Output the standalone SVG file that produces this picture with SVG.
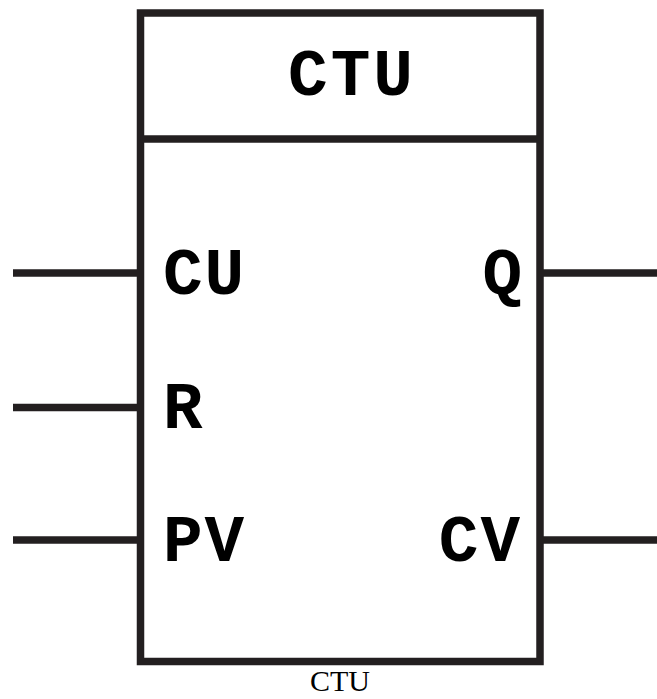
<svg xmlns="http://www.w3.org/2000/svg" width="657" height="699" viewBox="0 0 657 699">
<style>
.ln{stroke:#231f20;stroke-width:7.5;fill:none}
.lbl{font-family:"Courier New","Liberation Mono",monospace;font-weight:bold;font-size:66px;fill:#000}
.cap{font-family:"Liberation Serif","Times New Roman",serif;font-size:30px;fill:#000}
</style>
<rect width="657" height="699" fill="#fff"/>
<g id="block">
<rect class="ln" x="140.5" y="13" width="399.5" height="648.5"/>
<line class="ln" x1="140.5" y1="139" x2="540" y2="139"/>
<text class="lbl" x="352" y="95" text-anchor="middle" letter-spacing="3">CTU</text>
<text class="lbl" x="163" y="294" letter-spacing="2">CU</text>
<text class="lbl" x="163" y="428">R</text>
<text class="lbl" x="163" y="561" letter-spacing="2">PV</text>
<text class="lbl" x="522" y="294" text-anchor="end">Q</text>
<text class="lbl" x="522" y="561" text-anchor="end" letter-spacing="2">CV</text>
</g>
<g id="connectors">
<line class="ln" x1="13" y1="273" x2="140" y2="273"/>
<line class="ln" x1="13" y1="407.5" x2="140" y2="407.5"/>
<line class="ln" x1="13" y1="540" x2="140" y2="540"/>
<line class="ln" x1="540" y1="273" x2="657" y2="273"/>
<line class="ln" x1="540" y1="540" x2="657" y2="540"/>
</g>
<text class="cap" x="340" y="691" text-anchor="middle">CTU</text>
</svg>
